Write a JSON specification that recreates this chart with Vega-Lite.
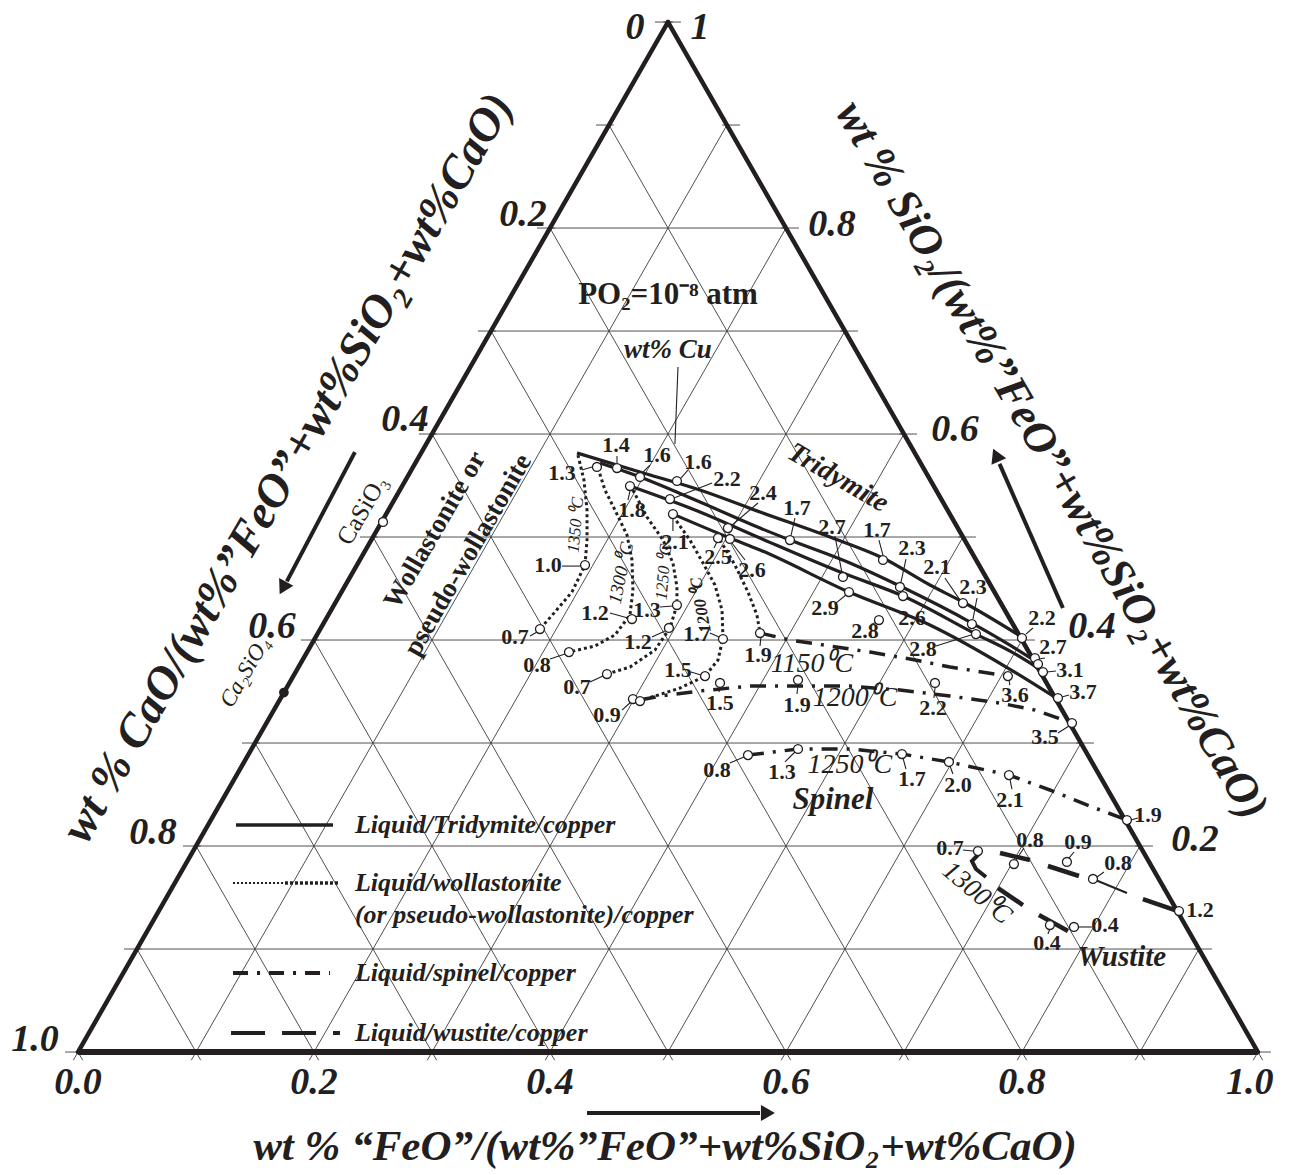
{
"$schema": "https://vega.github.io/schema/vega-lite/v6.json",
"width": 1297, "height": 1175,
"autosize": {"type": "fit", "contains": "padding"},
"padding": 0,
"background": "white",
"config": {"view": {"stroke": null}, "text": {"font": "Liberation Serif", "color": "#231f20"}},
"datasets": {
"segs": [
{"k":"g","x":0.05,"s":0.1,"x2":0.95,"s2":0.1},{"k":"g","x":0.1,"s":0.2,"x2":0.9,"s2":0.2},{"k":"g","x":0.15,"s":0.3,"x2":0.85,"s2":0.3},{"k":"g","x":0.2,"s":0.4,"x2":0.8,"s2":0.4},{"k":"g","x":0.25,"s":0.5,"x2":0.75,"s2":0.5},{"k":"g","x":0.3,"s":0.6,"x2":0.7,"s2":0.6},{"k":"g","x":0.35,"s":0.7,"x2":0.65,"s2":0.7},{"k":"g","x":0.4,"s":0.8,"x2":0.6,"s2":0.8},
{"k":"g","x":0.1,"s":0,"x2":0.55,"s2":0.9},{"k":"g","x":0.2,"s":0,"x2":0.6,"s2":0.8},{"k":"g","x":0.3,"s":0,"x2":0.65,"s2":0.7},{"k":"g","x":0.4,"s":0,"x2":0.7,"s2":0.6},{"k":"g","x":0.5,"s":0,"x2":0.75,"s2":0.5},{"k":"g","x":0.6,"s":0,"x2":0.8,"s2":0.4},{"k":"g","x":0.7,"s":0,"x2":0.85,"s2":0.3},{"k":"g","x":0.8,"s":0,"x2":0.9,"s2":0.2},{"k":"g","x":0.9,"s":0,"x2":0.95,"s2":0.1},
{"k":"g","x":0.1,"s":0,"x2":0.05,"s2":0.1},{"k":"g","x":0.2,"s":0,"x2":0.1,"s2":0.2},{"k":"g","x":0.3,"s":0,"x2":0.15,"s2":0.3},{"k":"g","x":0.4,"s":0,"x2":0.2,"s2":0.4},{"k":"g","x":0.5,"s":0,"x2":0.25,"s2":0.5},{"k":"g","x":0.6,"s":0,"x2":0.3,"s2":0.6},{"k":"g","x":0.7,"s":0,"x2":0.35,"s2":0.7},{"k":"g","x":0.8,"s":0,"x2":0.4,"s2":0.8},{"k":"g","x":0.9,"s":0,"x2":0.45,"s2":0.9},
{"k":"t","x":-0.011,"s":0,"x2":0.004,"s2":0},{"k":"t","x":0.039,"s":0.1,"x2":0.054,"s2":0.1},{"k":"t","x":0.089,"s":0.2,"x2":0.104,"s2":0.2},{"k":"t","x":0.139,"s":0.3,"x2":0.154,"s2":0.3},{"k":"t","x":0.189,"s":0.4,"x2":0.204,"s2":0.4},{"k":"t","x":0.239,"s":0.5,"x2":0.254,"s2":0.5},{"k":"t","x":0.289,"s":0.6,"x2":0.304,"s2":0.6},{"k":"t","x":0.339,"s":0.7,"x2":0.354,"s2":0.7},{"k":"t","x":0.389,"s":0.8,"x2":0.404,"s2":0.8},{"k":"t","x":0.439,"s":0.9,"x2":0.454,"s2":0.9},{"k":"t","x":0.489,"s":1,"x2":0.504,"s2":1},
{"k":"t","x":0.996,"s":0,"x2":1.011,"s2":0},{"k":"t","x":0.946,"s":0.1,"x2":0.961,"s2":0.1},{"k":"t","x":0.896,"s":0.2,"x2":0.911,"s2":0.2},{"k":"t","x":0.846,"s":0.3,"x2":0.861,"s2":0.3},{"k":"t","x":0.796,"s":0.4,"x2":0.811,"s2":0.4},{"k":"t","x":0.746,"s":0.5,"x2":0.761,"s2":0.5},{"k":"t","x":0.696,"s":0.6,"x2":0.711,"s2":0.6},{"k":"t","x":0.646,"s":0.7,"x2":0.661,"s2":0.7},{"k":"t","x":0.596,"s":0.8,"x2":0.611,"s2":0.8},{"k":"t","x":0.546,"s":0.9,"x2":0.561,"s2":0.9},{"k":"t","x":0.496,"s":1,"x2":0.511,"s2":1},
{"k":"t","x":0,"s":0,"x2":-0.004,"s2":-0.008},{"k":"t","x":0,"s":0,"x2":0.004,"s2":-0.008},{"k":"t","x":0.1,"s":0,"x2":0.096,"s2":-0.008},{"k":"t","x":0.1,"s":0,"x2":0.104,"s2":-0.008},{"k":"t","x":0.2,"s":0,"x2":0.196,"s2":-0.008},{"k":"t","x":0.2,"s":0,"x2":0.204,"s2":-0.008},{"k":"t","x":0.3,"s":0,"x2":0.296,"s2":-0.008},{"k":"t","x":0.3,"s":0,"x2":0.304,"s2":-0.008},{"k":"t","x":0.4,"s":0,"x2":0.396,"s2":-0.008},{"k":"t","x":0.4,"s":0,"x2":0.404,"s2":-0.008},{"k":"t","x":0.5,"s":0,"x2":0.496,"s2":-0.008},{"k":"t","x":0.5,"s":0,"x2":0.504,"s2":-0.008},{"k":"t","x":0.6,"s":0,"x2":0.596,"s2":-0.008},{"k":"t","x":0.6,"s":0,"x2":0.604,"s2":-0.008},{"k":"t","x":0.7,"s":0,"x2":0.696,"s2":-0.008},{"k":"t","x":0.7,"s":0,"x2":0.704,"s2":-0.008},{"k":"t","x":0.8,"s":0,"x2":0.796,"s2":-0.008},{"k":"t","x":0.8,"s":0,"x2":0.804,"s2":-0.008},{"k":"t","x":0.9,"s":0,"x2":0.896,"s2":-0.008},{"k":"t","x":0.9,"s":0,"x2":0.904,"s2":-0.008},{"k":"t","x":1,"s":0,"x2":0.996,"s2":-0.008},{"k":"t","x":1,"s":0,"x2":1.004,"s2":-0.008},
{"k":"e","x":0,"s":0,"x2":0.5,"s2":1},{"k":"e","x":1,"s":0,"x2":0.5,"s2":1},{"k":"b","x":0,"s":0,"x2":1,"s2":0},
{"k":"ld","x":0.4271,"s":0.5650,"x2":0.4356,"s2":0.5680},{"k":"ld","x":0.4568,"s":0.5786,"x2":0.4568,"s2":0.5718},{"k":"ld","x":0.4847,"s":0.5699,"x2":0.4780,"s2":0.5621},{"k":"ld","x":0.5169,"s":0.5650,"x2":0.5110,"s2":0.5573},{"k":"ld","x":0.4661,"s":0.5359,"x2":0.4678,"s2":0.5447},{"k":"ld","x":0.5373,"s":0.5524,"x2":0.5051,"s2":0.5379},{"k":"ld","x":0.5042,"s":0.5058,"x2":0.5042,"s2":0.5175},{"k":"ld","x":0.5763,"s":0.5330,"x2":0.5534,"s2":0.5107},{"k":"ld","x":0.5390,"s":0.4893,"x2":0.5415,"s2":0.4951},{"k":"ld","x":0.5653,"s":0.4777,"x2":0.5542,"s2":0.4942},{"k":"ld","x":0.6076,"s":0.5184,"x2":0.6042,"s2":0.5010},{"k":"ld","x":0.4102,"s":0.4718,"x2":0.4254,"s2":0.4718},{"k":"ld","x":0.3831,"s":0.4039,"x2":0.3890,"s2":0.4078},{"k":"ld","x":0.4000,"s":0.3816,"x2":0.4127,"s2":0.3864},{"k":"ld","x":0.4508,"s":0.4262,"x2":0.4661,"s2":0.4214},{"k":"ld","x":0.4932,"s":0.4320,"x2":0.5042,"s2":0.4330},{"k":"ld","x":0.4864,"s":0.4029,"x2":0.4975,"s2":0.4087},{"k":"ld","x":0.4339,"s":0.3592,"x2":0.4449,"s2":0.3650},{"k":"ld","x":0.4610,"s":0.3320,"x2":0.4686,"s2":0.3398},{"k":"ld","x":0.5195,"s":0.3689,"x2":0.5280,"s2":0.3660},{"k":"ld","x":0.5356,"s":0.4068,"x2":0.5432,"s2":0.4029},{"k":"ld","x":0.5780,"s":0.3942,"x2":0.5788,"s2":0.4029},{"k":"ld","x":0.5432,"s":0.3495,"x2":0.5441,"s2":0.3544},{"k":"ld","x":0.6093,"s":0.3476,"x2":0.6102,"s2":0.3563},{"k":"ld","x":0.6415,"s":0.5010,"x2":0.6475,"s2":0.4650},{"k":"ld","x":0.6788,"s":0.4971,"x2":0.6822,"s2":0.4825},{"k":"ld","x":0.7017,"s":0.4786,"x2":0.6975,"s2":0.4563},{"k":"ld","x":0.6424,"s":0.4359,"x2":0.6508,"s2":0.4437},{"k":"ld","x":0.7347,"s":0.4602,"x2":0.7475,"s2":0.4388},{"k":"ld","x":0.7619,"s":0.4408,"x2":0.7585,"s2":0.4204},{"k":"ld","x":0.7271,"s":0.3942,"x2":0.7568,"s2":0.4049},{"k":"ld","x":0.6720,"s":0.4150,"x2":0.6771,"s2":0.4175},{"k":"ld","x":0.8093,"s":0.4117,"x2":0.8034,"s2":0.4058},{"k":"ld","x":0.8195,"s":0.3825,"x2":0.8144,"s2":0.3816},{"k":"ld","x":0.8288,"s":0.3699,"x2":0.8212,"s2":0.3689},{"k":"ld","x":0.8398,"s":0.3466,"x2":0.8339,"s2":0.3447},{"k":"ld","x":0.7898,"s":0.3563,"x2":0.7890,"s2":0.3612},{"k":"ld","x":0.8305,"s":0.3097,"x2":0.8398,"s2":0.3165},{"k":"ld","x":0.7254,"s":0.3437,"x2":0.7263,"s2":0.3534},{"k":"ld","x":0.5525,"s":0.2806,"x2":0.5644,"s2":0.2864},{"k":"ld","x":0.5992,"s":0.2816,"x2":0.6076,"s2":0.2913},{"k":"ld","x":0.7017,"s":0.2748,"x2":0.6992,"s2":0.2854},{"k":"ld","x":0.7415,"s":0.2699,"x2":0.7390,"s2":0.2777},{"k":"ld","x":0.7915,"s":0.2553,"x2":0.7898,"s2":0.2650},{"k":"ld","x":0.8983,"s":0.2272,"x2":0.8924,"s2":0.2252},{"k":"ld","x":0.7500,"s":0.1961,"x2":0.7585,"s2":0.1951},{"k":"ld","x":0.8017,"s":0.1981,"x2":0.7949,"s2":0.1864},{"k":"ld","x":0.8441,"s":0.1942,"x2":0.8398,"s2":0.1883},{"k":"ld","x":0.8695,"s":0.1748,"x2":0.8636,"s2":0.1699},{"k":"ld","x":0.8220,"s":0.1146,"x2":0.8237,"s2":0.1194},{"k":"ld","x":0.8593,"s":0.1214,"x2":0.8483,"s2":0.1214},{"k":"ld","x":0.5085,"s":0.6650,"x2":0.5059,"s2":0.5903},
{"k":"w","x":0.7814,"s":0.1932,"x2":0.8068,"s2":0.1864},{"k":"w","x":0.8220,"s":0.1806,"x2":0.8483,"s2":0.1709},{"k":"w","x":0.9025,"s":0.1485,"x2":0.9322,"s2":0.1369},{"k":"w","x":0.7797,"s":0.1592,"x2":0.8008,"s2":0.1427},{"k":"w","x":0.8144,"s":0.1330,"x2":0.8390,"s2":0.1175},
{"k":"w2","x":0.8602,"s":0.1680,"x2":0.8890,"s2":0.1544},
{"k":"ar","x":0.4314,"s":-0.0592,"x2":0.5780,"s2":-0.0592},{"k":"ar","x":0.2347,"s":0.5825,"x2":0.1770,"s2":0.4570},{"k":"ar","x":0.8347,"s":0.4311,"x2":0.7810,"s2":0.5710},
{"k":"lg_solid","x":0.1339,"s":0.2204,"x2":0.2161,"s2":0.2204},{"k":"lg_dot1","x":0.1314,"s":0.1641,"x2":0.1754,"s2":0.1641},{"k":"lg_dot2","x":0.1754,"s":0.1641,"x2":0.2203,"s2":0.1641},{"k":"lg_dd","x":0.1314,"s":0.0767,"x2":0.2136,"s2":0.0767},{"k":"lg_wus","x":0.1297,"s":0.0184,"x2":0.2220,"s2":0.0184}
],
"curves": [
{"c":"L1","k":"trid","i":0,"x":0.4229,"s":0.5816},{"c":"L1","k":"trid","i":1,"x":0.4763,"s":0.5631},{"c":"L1","k":"trid","i":2,"x":0.5271,"s":0.5456},{"c":"L1","k":"trid","i":3,"x":0.5780,"s":0.5243},{"c":"L1","k":"trid","i":4,"x":0.6373,"s":0.5000},{"c":"L1","k":"trid","i":5,"x":0.6822,"s":0.4796},{"c":"L1","k":"trid","i":6,"x":0.7220,"s":0.4534},{"c":"L1","k":"trid","i":7,"x":0.7500,"s":0.4369},{"c":"L1","k":"trid","i":8,"x":0.8000,"s":0.4029},
{"c":"L2","k":"trid","i":0,"x":0.4424,"s":0.5718},{"c":"L2","k":"trid","i":1,"x":0.4763,"s":0.5583},{"c":"L2","k":"trid","i":2,"x":0.5271,"s":0.5340},{"c":"L2","k":"trid","i":3,"x":0.5780,"s":0.5087},{"c":"L2","k":"trid","i":4,"x":0.6034,"s":0.4971},{"c":"L2","k":"trid","i":5,"x":0.6542,"s":0.4748},{"c":"L2","k":"trid","i":6,"x":0.6966,"s":0.4524},{"c":"L2","k":"trid","i":7,"x":0.7576,"s":0.4165},{"c":"L2","k":"trid","i":8,"x":0.7898,"s":0.3951},{"c":"L2","k":"trid","i":9,"x":0.8100,"s":0.3806},
{"c":"L3","k":"trid","i":0,"x":0.4678,"s":0.5495},{"c":"L3","k":"trid","i":1,"x":0.5271,"s":0.5243},{"c":"L3","k":"trid","i":2,"x":0.5780,"s":0.4990},{"c":"L3","k":"trid","i":3,"x":0.6483,"s":0.4650},{"c":"L3","k":"trid","i":4,"x":0.6992,"s":0.4427},{"c":"L3","k":"trid","i":5,"x":0.7610,"s":0.4058},{"c":"L3","k":"trid","i":6,"x":0.7915,"s":0.3883},{"c":"L3","k":"trid","i":7,"x":0.8136,"s":0.3728},
{"c":"L4","k":"trid","i":0,"x":0.5042,"s":0.5223},{"c":"L4","k":"trid","i":1,"x":0.5525,"s":0.4990},{"c":"L4","k":"trid","i":2,"x":0.5780,"s":0.4874},{"c":"L4","k":"trid","i":3,"x":0.6534,"s":0.4466},{"c":"L4","k":"trid","i":4,"x":0.7220,"s":0.4146},{"c":"L4","k":"trid","i":5,"x":0.7881,"s":0.3728},{"c":"L4","k":"trid","i":6,"x":0.8290,"s":0.3437},
{"c":"W1","k":"dot","i":0,"x":0.4237,"s":0.5796},{"c":"W1","k":"dot","i":1,"x":0.4288,"s":0.5553},{"c":"W1","k":"dot","i":2,"x":0.4314,"s":0.5262},{"c":"W1","k":"dot","i":3,"x":0.4314,"s":0.4971},{"c":"W1","k":"dot","i":4,"x":0.4297,"s":0.4728},{"c":"W1","k":"dot","i":5,"x":0.4186,"s":0.4466},{"c":"W1","k":"dot","i":6,"x":0.4042,"s":0.4272},{"c":"W1","k":"dot","i":7,"x":0.3915,"s":0.4107},
{"c":"W2","k":"dot","i":0,"x":0.4407,"s":0.5670},{"c":"W2","k":"dot","i":1,"x":0.4466,"s":0.5456},{"c":"W2","k":"dot","i":2,"x":0.4551,"s":0.5262},{"c":"W2","k":"dot","i":3,"x":0.4653,"s":0.5019},{"c":"W2","k":"dot","i":4,"x":0.4695,"s":0.4777},{"c":"W2","k":"dot","i":5,"x":0.4703,"s":0.4485},{"c":"W2","k":"dot","i":6,"x":0.4678,"s":0.4243},{"c":"W2","k":"dot","i":7,"x":0.4551,"s":0.4049},{"c":"W2","k":"dot","i":8,"x":0.4381,"s":0.3942},{"c":"W2","k":"dot","i":9,"x":0.4161,"s":0.3883},
{"c":"W3","k":"dot","i":0,"x":0.4703,"s":0.5456},{"c":"W3","k":"dot","i":1,"x":0.4822,"s":0.5194},{"c":"W3","k":"dot","i":2,"x":0.4958,"s":0.4971},{"c":"W3","k":"dot","i":3,"x":0.5042,"s":0.4748},{"c":"W3","k":"dot","i":4,"x":0.5076,"s":0.4515},{"c":"W3","k":"dot","i":5,"x":0.5076,"s":0.4340},{"c":"W3","k":"dot","i":6,"x":0.5017,"s":0.4117},{"c":"W3","k":"dot","i":7,"x":0.4890,"s":0.3903},{"c":"W3","k":"dot","i":8,"x":0.4678,"s":0.3738},{"c":"W3","k":"dot","i":9,"x":0.4483,"s":0.3670},
{"c":"W4","k":"dot","i":0,"x":0.5042,"s":0.5204},{"c":"W4","k":"dot","i":1,"x":0.5186,"s":0.4971},{"c":"W4","k":"dot","i":2,"x":0.5297,"s":0.4748},{"c":"W4","k":"dot","i":3,"x":0.5398,"s":0.4534},{"c":"W4","k":"dot","i":4,"x":0.5458,"s":0.4291},{"c":"W4","k":"dot","i":5,"x":0.5466,"s":0.4019},{"c":"W4","k":"dot","i":6,"x":0.5424,"s":0.3806},{"c":"W4","k":"dot","i":7,"x":0.5314,"s":0.3650},{"c":"W4","k":"dot","i":8,"x":0.5102,"s":0.3534},{"c":"W4","k":"dot","i":9,"x":0.4890,"s":0.3456},{"c":"W4","k":"dot","i":10,"x":0.4763,"s":0.3417},
{"c":"W5","k":"dot","i":0,"x":0.5441,"s":0.4971},{"c":"W5","k":"dot","i":1,"x":0.5568,"s":0.4728},{"c":"W5","k":"dot","i":2,"x":0.5678,"s":0.4466},{"c":"W5","k":"dot","i":3,"x":0.5754,"s":0.4243},{"c":"W5","k":"dot","i":4,"x":0.5780,"s":0.4068},
{"c":"S1","k":"spin","i":0,"x":0.5780,"s":0.4068},{"c":"S1","k":"spin","i":1,"x":0.6034,"s":0.4000},{"c":"S1","k":"spin","i":2,"x":0.6373,"s":0.3942},{"c":"S1","k":"spin","i":3,"x":0.6712,"s":0.3883},{"c":"S1","k":"spin","i":4,"x":0.7051,"s":0.3816},{"c":"S1","k":"spin","i":5,"x":0.7390,"s":0.3738},{"c":"S1","k":"spin","i":6,"x":0.7881,"s":0.3650},
{"c":"S2","k":"spin","i":0,"x":0.4763,"s":0.3417},{"c":"S2","k":"spin","i":1,"x":0.4932,"s":0.3456},{"c":"S2","k":"spin","i":2,"x":0.5271,"s":0.3505},{"c":"S2","k":"spin","i":3,"x":0.5695,"s":0.3553},{"c":"S2","k":"spin","i":4,"x":0.6119,"s":0.3553},{"c":"S2","k":"spin","i":5,"x":0.6542,"s":0.3553},{"c":"S2","k":"spin","i":6,"x":0.6966,"s":0.3515},{"c":"S2","k":"spin","i":7,"x":0.7390,"s":0.3456},{"c":"S2","k":"spin","i":8,"x":0.7814,"s":0.3388},{"c":"S2","k":"spin","i":9,"x":0.8110,"s":0.3320},{"c":"S2","k":"spin","i":10,"x":0.8424,"s":0.3194},
{"c":"S3","k":"spin","i":0,"x":0.5678,"s":0.2883},{"c":"S3","k":"spin","i":1,"x":0.6102,"s":0.2942},{"c":"S3","k":"spin","i":2,"x":0.6542,"s":0.2942},{"c":"S3","k":"spin","i":3,"x":0.6983,"s":0.2893},{"c":"S3","k":"spin","i":4,"x":0.7381,"s":0.2816},{"c":"S3","k":"spin","i":5,"x":0.7890,"s":0.2689},{"c":"S3","k":"spin","i":6,"x":0.8237,"s":0.2544},{"c":"S3","k":"spin","i":7,"x":0.8576,"s":0.2388},{"c":"S3","k":"spin","i":8,"x":0.8890,"s":0.2252},
{"c":"H","k":"wus","i":0,"x":0.7627,"s":0.1913},{"c":"H","k":"wus","i":1,"x":0.7576,"s":0.1854},{"c":"H","k":"wus","i":2,"x":0.7610,"s":0.1777},{"c":"H","k":"wus","i":3,"x":0.7695,"s":0.1699}
],
"circles": [
{"x":0.4398,"s":0.5680},{"x":0.4568,"s":0.5670},{"x":0.4763,"s":0.5583},{"x":0.5076,"s":0.5544},{"x":0.4678,"s":0.5495},{"x":0.5017,"s":0.5369},{"x":0.5042,"s":0.5223},{"x":0.5508,"s":0.5087},{"x":0.5424,"s":0.4990},{"x":0.5525,"s":0.4981},{"x":0.6034,"s":0.4971},{"x":0.4297,"s":0.4728},{"x":0.3915,"s":0.4107},{"x":0.4161,"s":0.3883},{"x":0.4695,"s":0.4204},{"x":0.5076,"s":0.4340},{"x":0.5008,"s":0.4117},{"x":0.4483,"s":0.3670},{"x":0.4703,"s":0.3427},{"x":0.4763,"s":0.3408},{"x":0.5314,"s":0.3650},{"x":0.5466,"s":0.4010},{"x":0.5780,"s":0.4068},{"x":0.5441,"s":0.3583},{"x":0.6102,"s":0.3612},{"x":0.6483,"s":0.4612},{"x":0.6822,"s":0.4777},{"x":0.6966,"s":0.4515},{"x":0.6992,"s":0.4427},{"x":0.6534,"s":0.4466},{"x":0.75,"s":0.4359},{"x":0.7576,"s":0.4155},{"x":0.7610,"s":0.4058},{"x":0.6788,"s":0.4194},{"x":0.8,"s":0.4019},{"x":0.8110,"s":0.3825},{"x":0.8136,"s":0.3767},{"x":0.8178,"s":0.3689},{"x":0.8305,"s":0.3437},{"x":0.7881,"s":0.3650},{"x":0.8424,"s":0.3194},{"x":0.7263,"s":0.3583},{"x":0.5678,"s":0.2883},{"x":0.6102,"s":0.2942},{"x":0.6983,"s":0.2893},{"x":0.7381,"s":0.2816},{"x":0.7890,"s":0.2689},{"x":0.8890,"s":0.2252},{"x":0.7627,"s":0.1951},{"x":0.7932,"s":0.1825},{"x":0.8381,"s":0.1845},{"x":0.8602,"s":0.1680},{"x":0.9331,"s":0.1369},{"x":0.8237,"s":0.1233},{"x":0.8441,"s":0.1214},{"x":0.2585,"s":0.5146}
],
"nums": [
{"t":"1.3","x":0.4102,"s":0.5621},{"t":"1.4","x":0.4559,"s":0.5893},{"t":"1.6","x":0.4907,"s":0.5796},{"t":"1.6","x":0.5254,"s":0.5728},{"t":"1.8","x":0.4695,"s":0.5262},{"t":"2.2","x":0.5500,"s":0.5563},{"t":"2.1","x":0.5059,"s":0.4951},{"t":"2.4","x":0.5805,"s":0.5427},{"t":"2.5","x":0.5424,"s":0.4806},{"t":"2.6","x":0.5712,"s":0.4680},{"t":"1.7","x":0.6093,"s":0.5282},{"t":"1.0","x":0.3983,"s":0.4728},{"t":"0.7","x":0.3703,"s":0.4029},{"t":"0.8","x":0.3890,"s":0.3757},{"t":"1.2","x":0.4381,"s":0.4262},{"t":"1.3","x":0.4822,"s":0.4291},{"t":"1.2","x":0.4746,"s":0.3981},{"t":"0.7","x":0.4229,"s":0.3544},{"t":"0.9","x":0.4483,"s":0.3272},{"t":"1.5","x":0.5085,"s":0.3709},{"t":"1.7","x":0.5246,"s":0.4058},{"t":"1.9","x":0.5763,"s":0.3854},{"t":"1.5","x":0.5441,"s":0.3388},{"t":"1.9","x":0.6093,"s":0.3369},{"t":"2.7","x":0.6390,"s":0.5097},{"t":"1.7","x":0.6771,"s":0.5068},{"t":"2.3","x":0.7068,"s":0.4893},{"t":"2.6","x":0.7068,"s":0.4214},{"t":"2.9","x":0.6331,"s":0.4311},{"t":"2.1","x":0.7280,"s":0.4709},{"t":"2.3","x":0.7585,"s":0.4515},{"t":"2.8","x":0.7161,"s":0.3913},{"t":"2.8","x":0.6670,"s":0.4088},{"t":"2.2","x":0.8169,"s":0.4214},{"t":"2.7","x":0.8263,"s":0.3932},{"t":"3.1","x":0.8407,"s":0.3709},{"t":"3.7","x":0.8517,"s":0.3495},{"t":"3.6","x":0.7941,"s":0.3466},{"t":"3.5","x":0.8195,"s":0.3058},{"t":"2.2","x":0.7246,"s":0.3340},{"t":"0.8","x":0.5415,"s":0.2738},{"t":"1.3","x":0.5966,"s":0.2718},{"t":"1.7","x":0.7068,"s":0.2650},{"t":"2.0","x":0.7458,"s":0.2592},{"t":"2.1","x":0.7898,"s":0.2447},{"t":"1.9","x":0.9068,"s":0.2301},{"t":"0.7","x":0.7390,"s":0.1981},{"t":"0.8","x":0.8068,"s":0.2058},{"t":"0.9","x":0.8475,"s":0.2039},{"t":"0.8","x":0.8814,"s":0.1835},{"t":"1.2","x":0.9508,"s":0.1379},{"t":"0.4","x":0.8212,"s":0.1058},{"t":"0.4","x":0.8703,"s":0.1233}
],
"ticklabels": [
{"t":"0","x":0.4720,"s":0.9942},{"t":"1","x":0.5271,"s":0.9942},
{"t":"0.2","x":0.3771,"s":0.8126},{"t":"0.4","x":0.2771,"s":0.6136},{"t":"0.6","x":0.1644,"s":0.4126},{"t":"0.8","x":0.0636,"s":0.2126},{"t":"1.0","x":-0.0364,"s":0.0117},
{"t":"0.8","x":0.6390,"s":0.8029},{"t":"0.6","x":0.7432,"s":0.6039},{"t":"0.4","x":0.8593,"s":0.4126},{"t":"0.2","x":0.9466,"s":0.2058},
{"t":"0.0","x":0.0,"s":-0.0301},{"t":"0.2","x":0.2,"s":-0.0301},{"t":"0.4","x":0.4,"s":-0.0301},{"t":"0.6","x":0.6,"s":-0.0301},{"t":"0.8","x":0.8,"s":-0.0301},{"t":"1.0","x":0.993,"s":-0.0301}
],
"legendtext": [
{"t":"Liquid/Tridymite/copper","x":0.2347,"s":0.2204},{"t":"Liquid/wollastonite","x":0.2347,"s":0.1641},{"t":"(or pseudo-wollastonite)/copper","x":0.2347,"s":0.1330},{"t":"Liquid/spinel/copper","x":0.2347,"s":0.0767},{"t":"Liquid/wustite/copper","x":0.2347,"s":0.0184}
]
},
"encoding": {
"x": {"field": "x", "type": "quantitative", "scale": {"domain": [-0.0661, 1.0331], "nice": false, "zero": false}, "axis": null},
"y": {"field": "s", "type": "quantitative", "scale": {"domain": [-0.1194, 1.0214], "nice": false, "zero": false}, "axis": null}
},
"layer": [
{"data": {"name": "segs"}, "transform": [{"filter": "datum.k === 'g'"}], "mark": {"type": "rule", "stroke": "#3c3c3c", "strokeWidth": 0.9}, "encoding": {"x2": {"field": "x2"}, "y2": {"field": "s2"}}},
{"data": {"name": "segs"}, "transform": [{"filter": "datum.k === 't'"}], "mark": {"type": "rule", "stroke": "#3c3c3c", "strokeWidth": 0.9}, "encoding": {"x2": {"field": "x2"}, "y2": {"field": "s2"}}},
{"data": {"name": "segs"}, "transform": [{"filter": "datum.k === 'e'"}], "mark": {"type": "rule", "stroke": "#231f20", "strokeWidth": 4.5, "strokeCap": "round"}, "encoding": {"x2": {"field": "x2"}, "y2": {"field": "s2"}}},
{"data": {"name": "segs"}, "transform": [{"filter": "datum.k === 'b'"}], "mark": {"type": "rule", "stroke": "#231f20", "strokeWidth": 6}, "encoding": {"x2": {"field": "x2"}, "y2": {"field": "s2"}}},
{"data": {"name": "curves"}, "transform": [{"filter": "datum.k === 'trid'"}], "mark": {"type": "line", "color": "#231f20", "strokeWidth": 3.2, "interpolate": "monotone"}, "encoding": {"detail": {"field": "c"}, "order": {"field": "i"}}},
{"data": {"name": "curves"}, "transform": [{"filter": "datum.k === 'dot'"}], "mark": {"type": "line", "color": "#231f20", "strokeWidth": 3, "strokeDash": [3, 3], "strokeCap": "butt"}, "encoding": {"detail": {"field": "c"}, "order": {"field": "i"}}},
{"data": {"name": "curves"}, "transform": [{"filter": "datum.k === 'spin'"}], "mark": {"type": "line", "color": "#231f20", "strokeWidth": 3.5, "strokeDash": [16, 9, 3, 9]}, "encoding": {"detail": {"field": "c"}, "order": {"field": "i"}}},
{"data": {"name": "curves"}, "transform": [{"filter": "datum.k === 'wus'"}], "mark": {"type": "line", "color": "#231f20", "strokeWidth": 4}, "encoding": {"detail": {"field": "c"}, "order": {"field": "i"}}},
{"data": {"name": "segs"}, "transform": [{"filter": "datum.k === 'w'"}], "mark": {"type": "rule", "stroke": "#231f20", "strokeWidth": 4.5}, "encoding": {"x2": {"field": "x2"}, "y2": {"field": "s2"}}},
{"data": {"name": "segs"}, "transform": [{"filter": "datum.k === 'w2'"}], "mark": {"type": "rule", "stroke": "#231f20", "strokeWidth": 2}, "encoding": {"x2": {"field": "x2"}, "y2": {"field": "s2"}}},
{"data": {"name": "segs"}, "transform": [{"filter": "datum.k === 'ld'"}], "mark": {"type": "rule", "stroke": "#231f20", "strokeWidth": 1.1}, "encoding": {"x2": {"field": "x2"}, "y2": {"field": "s2"}}},
{"data": {"name": "segs"}, "transform": [{"filter": "datum.k === 'ar'"}], "mark": {"type": "rule", "stroke": "#231f20", "strokeWidth": 4}, "encoding": {"x2": {"field": "x2"}, "y2": {"field": "s2"}}},
{"data": {"name": "segs"}, "transform": [{"filter": "datum.k === 'lg_solid'"}], "mark": {"type": "rule", "stroke": "#231f20", "strokeWidth": 3.5}, "encoding": {"x2": {"field": "x2"}, "y2": {"field": "s2"}}},
{"data": {"name": "segs"}, "transform": [{"filter": "datum.k === 'lg_dot1'"}], "mark": {"type": "rule", "stroke": "#231f20", "strokeWidth": 1.8, "strokeDash": [2, 2]}, "encoding": {"x2": {"field": "x2"}, "y2": {"field": "s2"}}},
{"data": {"name": "segs"}, "transform": [{"filter": "datum.k === 'lg_dot2'"}], "mark": {"type": "rule", "stroke": "#231f20", "strokeWidth": 3.5, "strokeDash": [3, 2]}, "encoding": {"x2": {"field": "x2"}, "y2": {"field": "s2"}}},
{"data": {"name": "segs"}, "transform": [{"filter": "datum.k === 'lg_dd'"}], "mark": {"type": "rule", "stroke": "#231f20", "strokeWidth": 4, "strokeDash": [15, 9, 3, 9]}, "encoding": {"x2": {"field": "x2"}, "y2": {"field": "s2"}}},
{"data": {"name": "segs"}, "transform": [{"filter": "datum.k === 'lg_wus'"}], "mark": {"type": "rule", "stroke": "#231f20", "strokeWidth": 4, "strokeDash": [34, 17]}, "encoding": {"x2": {"field": "x2"}, "y2": {"field": "s2"}}},
{"data": {"values": [{"x": 0.5847, "s": -0.0592}]}, "mark": {"type": "point", "shape": "triangle-up", "angle": 90, "filled": true, "color": "#231f20", "size": 260, "opacity": 1}},
{"data": {"values": [{"x": 0.1737, "s": 0.4505}]}, "mark": {"type": "point", "shape": "triangle-up", "angle": 208, "filled": true, "color": "#231f20", "size": 260, "opacity": 1}},
{"data": {"values": [{"x": 0.7780, "s": 0.5796}]}, "mark": {"type": "point", "shape": "triangle-up", "angle": -24, "filled": true, "color": "#231f20", "size": 260, "opacity": 1}},
{"data": {"name": "circles"}, "mark": {"type": "point", "shape": "circle", "filled": true, "fill": "white", "stroke": "#231f20", "strokeWidth": 1.3, "size": 80, "opacity": 1}},
{"data": {"values": [{"x": 0.1745, "s": 0.349}]}, "mark": {"type": "point", "shape": "circle", "filled": true, "color": "#231f20", "size": 95, "opacity": 1}},
{"data": {"name": "nums"}, "mark": {"type": "text", "fontSize": 22, "fontWeight": "bold", "align": "center", "baseline": "middle"}, "encoding": {"text": {"field": "t"}}},
{"data": {"name": "ticklabels"}, "mark": {"type": "text", "fontSize": 38, "fontWeight": "bold", "fontStyle": "italic", "align": "center", "baseline": "middle"}, "encoding": {"text": {"field": "t"}}},
{"data": {"name": "legendtext"}, "mark": {"type": "text", "fontSize": 26, "fontWeight": "bold", "fontStyle": "italic", "align": "left", "baseline": "middle"}, "encoding": {"text": {"field": "t"}}},
{"data": {"values": [{"t": "wt % “FeO”/(wt%”FeO”+wt%SiO₂+wt%CaO)", "x": 0.4975, "s": -0.0922}]}, "mark": {"type": "text", "fontSize": 43, "fontWeight": "bold", "fontStyle": "italic", "align": "center", "baseline": "middle"}, "encoding": {"text": {"field": "t"}}},
{"data": {"values": [{"t": "wt % CaO/(wt%”FeO”+wt%SiO₂+wt%CaO)", "x": 0.1780, "s": 0.5670}]}, "mark": {"type": "text", "fontSize": 47, "fontWeight": "bold", "fontStyle": "italic", "align": "center", "baseline": "middle", "angle": -60}, "encoding": {"text": {"field": "t"}}},
{"data": {"values": [{"t": "wt % SiO₂/(wt%”FeO”+wt%SiO₂+wt%CaO)", "x": 0.8254, "s": 0.5748}]}, "mark": {"type": "text", "fontSize": 45, "fontWeight": "bold", "fontStyle": "italic", "align": "center", "baseline": "middle", "angle": 60}, "encoding": {"text": {"field": "t"}}},
{"data": {"values": [{"t": "PO₂=10⁻⁸ atm", "x": 0.5, "s": 0.7350}]}, "mark": {"type": "text", "fontSize": 31, "fontWeight": "bold", "align": "center", "baseline": "middle"}, "encoding": {"text": {"field": "t"}}},
{"data": {"values": [{"t": "wt% Cu", "x": 0.5, "s": 0.6816}]}, "mark": {"type": "text", "fontSize": 27, "fontWeight": "bold", "fontStyle": "italic", "align": "center", "baseline": "middle"}, "encoding": {"text": {"field": "t"}}},
{"data": {"values": [{"t": "Tridymite", "x": 0.6441, "s": 0.5573}]}, "mark": {"type": "text", "fontSize": 28, "fontWeight": "bold", "fontStyle": "italic", "align": "center", "baseline": "middle", "angle": 30}, "encoding": {"text": {"field": "t"}}},
{"data": {"values": [{"t": "Wollastonite or", "x": 0.3025, "s": 0.5068}]}, "mark": {"type": "text", "fontSize": 27, "fontWeight": "bold", "align": "center", "baseline": "middle", "angle": -60}, "encoding": {"text": {"field": "t"}}},
{"data": {"values": [{"t": "pseudo-wollastonite", "x": 0.3305, "s": 0.4825}]}, "mark": {"type": "text", "fontSize": 27, "fontWeight": "bold", "align": "center", "baseline": "middle", "angle": -60}, "encoding": {"text": {"field": "t"}}},
{"data": {"values": [{"t": "CaSiO₃", "x": 0.2407, "s": 0.5262}]}, "mark": {"type": "text", "fontSize": 25, "align": "center", "baseline": "middle", "angle": -60}, "encoding": {"text": {"field": "t"}}},
{"data": {"values": [{"t": "Ca₂SiO₄", "x": 0.1415, "s": 0.3689}]}, "mark": {"type": "text", "fontSize": 23, "fontStyle": "italic", "align": "center", "baseline": "middle", "angle": -60}, "encoding": {"text": {"field": "t"}}},
{"data": {"values": [{"t": "1350 ⁰C", "x": 0.4220, "s": 0.5117}]}, "mark": {"type": "text", "fontSize": 17, "fontStyle": "italic", "align": "center", "baseline": "middle", "angle": -85}, "encoding": {"text": {"field": "t"}}},
{"data": {"values": [{"t": "1300 ⁰C", "x": 0.4602, "s": 0.4650}]}, "mark": {"type": "text", "fontSize": 19, "fontStyle": "italic", "align": "center", "baseline": "middle", "angle": -78}, "encoding": {"text": {"field": "t"}}},
{"data": {"values": [{"t": "1250 ⁰C", "x": 0.4966, "s": 0.4660}]}, "mark": {"type": "text", "fontSize": 17, "fontStyle": "italic", "align": "center", "baseline": "middle", "angle": -85}, "encoding": {"text": {"field": "t"}}},
{"data": {"values": [{"t": "1200 ⁰C", "x": 0.5280, "s": 0.4340}]}, "mark": {"type": "text", "fontSize": 17, "fontStyle": "italic", "fontWeight": "bold", "align": "center", "baseline": "middle", "angle": -100}, "encoding": {"text": {"field": "t"}}},
{"data": {"values": [{"t": "1150⁰C", "x": 0.6220, "s": 0.3767}, {"t": "1200⁰C", "x": 0.6585, "s": 0.3437}, {"t": "1250⁰C", "x": 0.6542, "s": 0.2786}]}, "mark": {"type": "text", "fontSize": 28, "fontStyle": "italic", "align": "center", "baseline": "middle"}, "encoding": {"text": {"field": "t"}}},
{"data": {"values": [{"t": "Spinel", "x": 0.6398, "s": 0.2447}]}, "mark": {"type": "text", "fontSize": 31, "fontWeight": "bold", "fontStyle": "italic", "align": "center", "baseline": "middle"}, "encoding": {"text": {"field": "t"}}},
{"data": {"values": [{"t": "1300⁰C", "x": 0.7619, "s": 0.1544}]}, "mark": {"type": "text", "fontSize": 27, "fontStyle": "italic", "align": "center", "baseline": "middle", "angle": 40}, "encoding": {"text": {"field": "t"}}},
{"data": {"values": [{"t": "Wustite", "x": 0.8847, "s": 0.0922}]}, "mark": {"type": "text", "fontSize": 29, "fontWeight": "bold", "fontStyle": "italic", "align": "center", "baseline": "middle"}, "encoding": {"text": {"field": "t"}}}
]
}
